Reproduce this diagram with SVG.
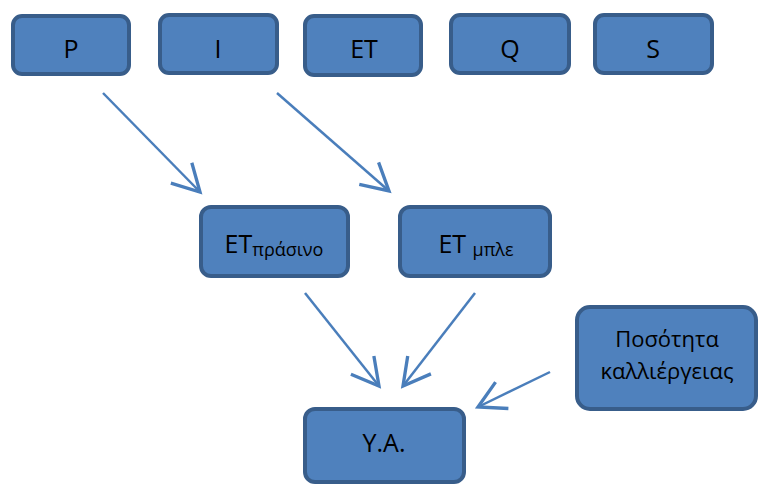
<svg xmlns="http://www.w3.org/2000/svg" width="758" height="484" viewBox="0 0 758 484">
<style>
.box{fill:#4f81bd;stroke:#385d8a;stroke-width:4}
.t{font-family:"Open Sans","Noto Sans",sans-serif;font-size:25px;fill:#000;text-anchor:middle}
.t2{font-family:"Open Sans","Noto Sans",sans-serif;font-size:22px;fill:#000;text-anchor:middle}
.sub{font-size:18px}
.c{fill:none;stroke:#4a7ebb;stroke-width:2.5;marker-end:url(#arr)}
</style>
<defs>
<marker id="arr" markerUnits="userSpaceOnUse" markerWidth="40" markerHeight="40" viewBox="-25 -15 30 30" refX="0" refY="0" orient="auto" overflow="visible">
<path d="M-20,-11 L0,0 L-20,11" fill="none" stroke="#4a7ebb" stroke-width="2.5"/>
</marker>
</defs>
<rect width="758" height="484" fill="#fff"/>
<g id="connectors">
<line class="c" x1="103" y1="93" x2="200" y2="192"/>
<line class="c" x1="277" y1="93" x2="389" y2="191"/>
<line class="c" x1="305" y1="293" x2="379" y2="386"/>
<line class="c" x1="475" y1="293" x2="403" y2="386"/>
<line class="c" x1="550" y1="372" x2="478" y2="407"/>
</g>
<g id="P"><rect class="box" x="13" y="16" width="116" height="58" rx="9"/><text class="t" x="71" y="58">P</text></g>
<g id="I"><rect class="box" x="160" y="15" width="117" height="58" rx="9"/><text class="t" x="218" y="58">I</text></g>
<g id="ET"><rect class="box" x="305" y="16" width="116" height="59" rx="9"/><text class="t" x="364" y="58">ET</text></g>
<g id="Q"><rect class="box" x="451" y="15" width="118" height="58" rx="9"/><text class="t" x="510" y="58">Q</text></g>
<g id="S"><rect class="box" x="595" y="15" width="117" height="58" rx="9"/><text class="t" x="653" y="58">S</text></g>
<g id="ET_prasino"><rect class="box" x="201" y="207" width="147" height="69" rx="10"/><text class="t" x="274" y="253">ET<tspan class="sub" dy="3">πράσινο</tspan></text></g>
<g id="ET_mple"><rect class="box" x="400" y="207" width="150" height="69" rx="10"/><text class="t" x="476" y="253">ET <tspan class="sub" dy="3">μπλε</tspan></text></g>
<g id="YA"><rect class="box" x="305" y="409" width="159" height="73" rx="10"/><text class="t" x="384" y="452">Υ.Α.</text></g>
<g id="Posotita"><rect class="box" x="577" y="307" width="179" height="102" rx="13"/><text class="t2" x="667" y="347">Ποσότητα</text><text class="t2" x="667" y="379">καλλιέργειας</text></g>
</svg>
